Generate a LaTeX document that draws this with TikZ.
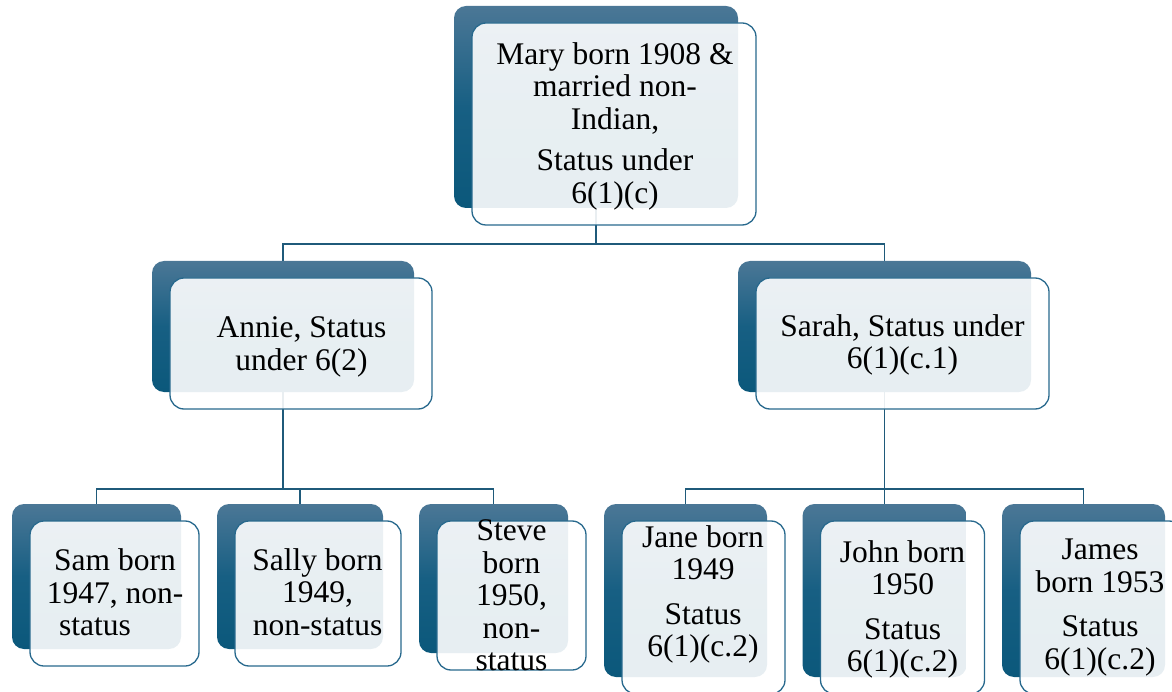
\documentclass[tikz,border=0pt]{standalone}
\usepackage{fontspec}
\setmainfont{Liberation Serif}
\usetikzlibrary{backgrounds,calc}
\definecolor{famTop}{HTML}{4B7796}
\definecolor{famMid}{HTML}{175F83}
\definecolor{famBot}{HTML}{0B587B}
\definecolor{famLine}{HTML}{1F5A7A}
\definecolor{famEdge}{HTML}{28698D}
\tikzset{
    family tree/.style = {x=1pt, y=-1pt},
    backbox/.style     = {rounded corners=12pt, inner sep=0pt, outer sep=0pt,
                          top color=famTop, bottom color=famBot,
                          middle color=famMid},
    frontbox/.style    = {draw=famEdge, line width=1.3pt, fill=white,
                          fill opacity=0.9, rounded corners=14pt,
                          inner sep=0pt, outer sep=0pt},
    famtext/.style     = {align=center, inner sep=0pt, text=black,
                          font=\fontsize{31.5}{32.5}\selectfont},
    link/.style        = {draw=famLine, line width=1.3pt}
}

\begin{document}
\begin{tikzpicture}[family tree]
\useasboundingbox (0,0) rectangle (1172,692);
\clip (0,0) rectangle (1172,692);

% Shaded back plates and the light cards laid over them
\foreach \n/\x/\y/\w/\h in {mary/596/107/284/202,
                            annie/283/326.5/262/131,
                            sarah/884.5/326.5/293/131,
                            sam/96.5/576.5/169/145,
                            sally/300/576.5/166/145,
                            steve/493.5/578.5/149/149,
                            jane/685.5/590.5/163/173,
                            john/884.5/590.5/164/173,
                            james/1083.5/590.5/163/173}
{
    \node[backbox, minimum width=\w pt, minimum height=\h pt] (\n-b) at (\x,\y) {};
    \node[frontbox, minimum width=\w pt, minimum height=\h pt] (\n-f)
        at ($(\n-b)+(18,17)$) {};
}

% Texts
\node[famtext] (mary-t) at (615,126)
    {Mary born 1908 \&\\married non-\\Indian,\\[9pt]Status under\\6(1)(c)};
\node[famtext] (annie-t) at (301.5,347) {Annie, Status\\under 6(2)};
\node[famtext] (sarah-t) at (902.5,345) {Sarah, Status under\\6(1)(c.1)};
\node[famtext] (sam-t) at (115,592.5) {Sam born\\1947, non-\\status\hspace*{40pt}};
\node[famtext] (sally-t) at (317.5,592) {Sally born\\1949,\\non-status};
\node[famtext] (steve-t) at (511.5,595.5) {Steve\\born\\1950,\\non-\\status};
\node[famtext] (jane-t) at (703,594.5) {Jane born\\1949\\[12pt]Status\\6(1)(c.2)};
\node[famtext] (john-t) at (902.5,609.5) {John born\\1950\\[12pt]Status\\6(1)(c.2)};
\node[famtext] (james-t) at (1100,607.5) {James\\born 1953\\[12pt]Status\\6(1)(c.2)};

% Elbow links behind the boxes
\begin{scope}[on background layer]
    \draw[link] (mary-b.south) -- ++(0,36) coordinate (mary-j);
    \foreach \kid in {annie, sarah}
        \draw[link] (mary-j) -| (\kid-b.north);
    \draw[link] (annie-b.south) -- ++(0,97) coordinate (annie-j);
    \foreach \kid in {sam, sally, steve}
        \draw[link] (annie-j) -| (\kid-b.north);
    \draw[link] (sarah-b.south) -- ++(0,97) coordinate (sarah-j);
    \foreach \kid in {jane, john, james}
        \draw[link] (sarah-j) -| (\kid-b.north);
\end{scope}

\end{tikzpicture}
\end{document}
